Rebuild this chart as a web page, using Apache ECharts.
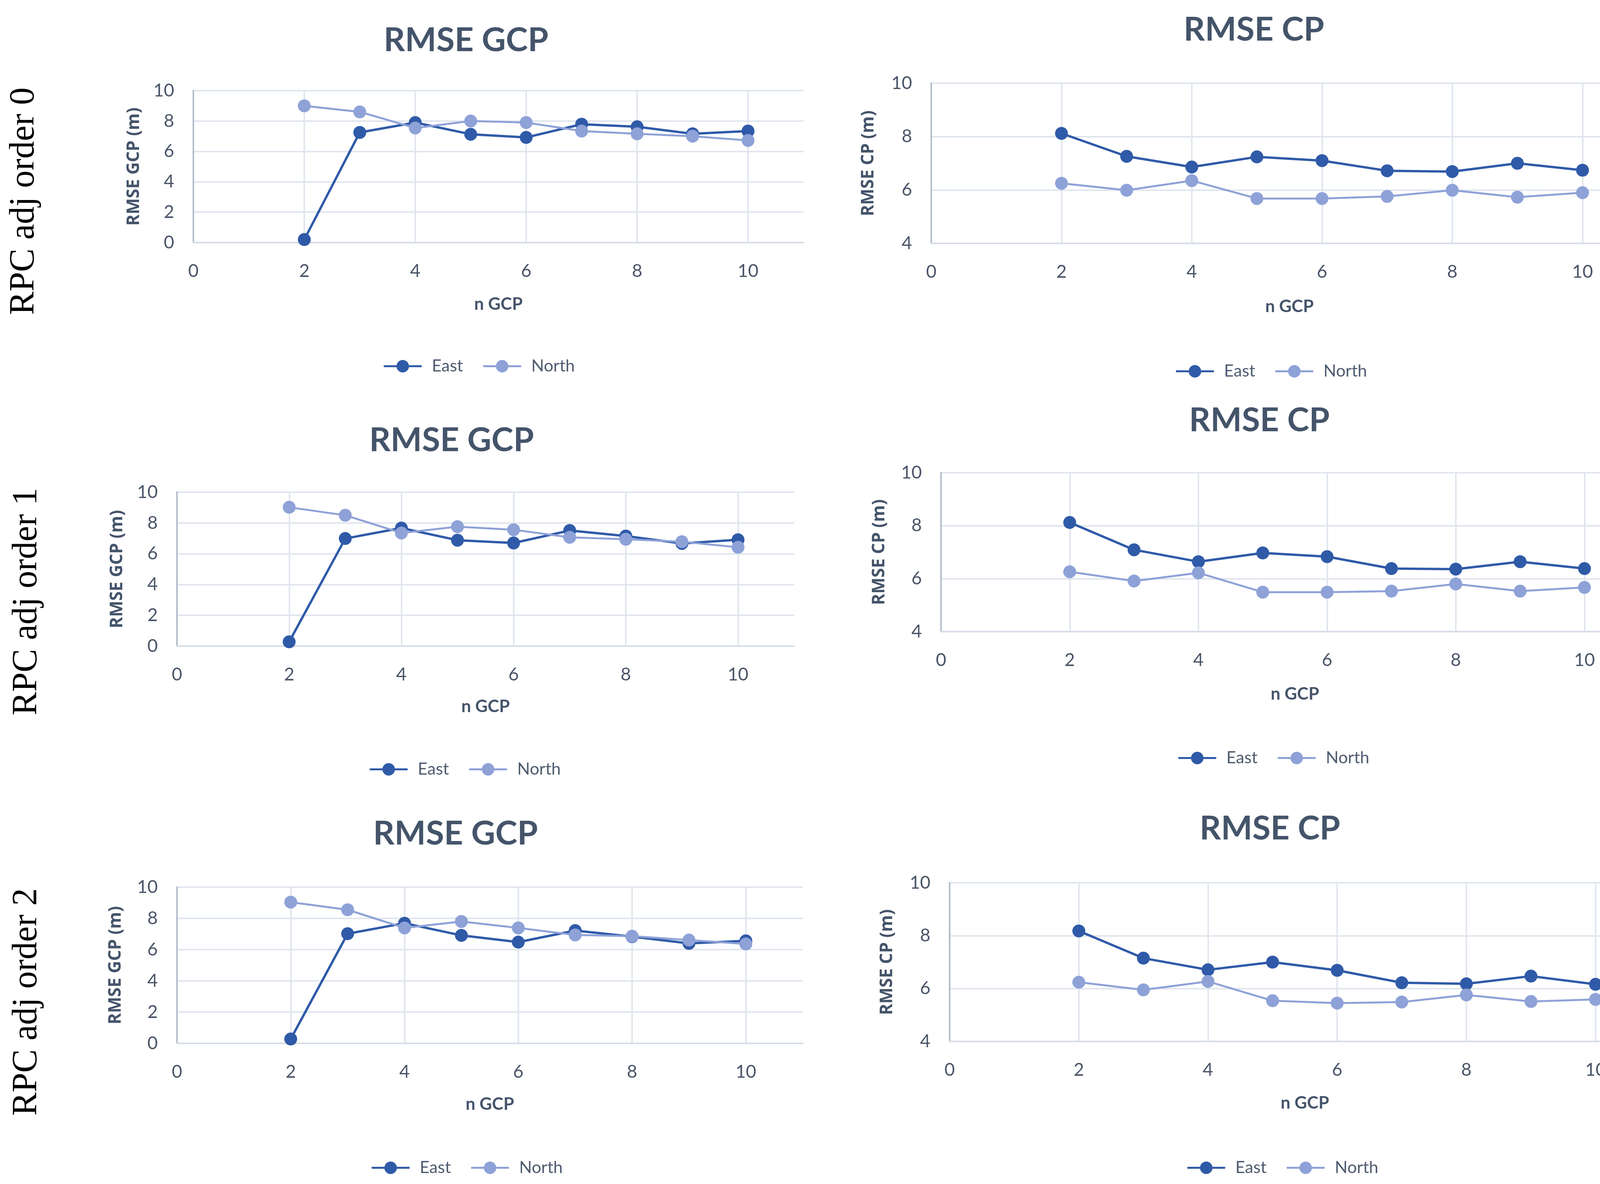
<!DOCTYPE html>
<html><head><meta charset="utf-8">
<script src="https://cdn.jsdelivr.net/npm/echarts@6/dist/echarts.min.js"></script>
<style>html,body{margin:0;padding:0;background:#fff;}#c{width:4279px;height:3031px;}</style>
</head><body><div id="c"></div>
<script>
// ---- data ----
const nGCP = [2, 3, 4, 5, 6, 7, 8, 9, 10];
const eastGCP0  = [0.20, 7.25, 7.90, 7.13, 6.92, 7.79, 7.62, 7.16, 7.34];
const northGCP0 = [9.00, 8.60, 7.54, 8.00, 7.90, 7.34, 7.16, 7.00, 6.72];
const eastCP0   = [8.12, 7.26, 6.86, 7.24, 7.10, 6.72, 6.69, 7.00, 6.74];
const northCP0  = [6.25, 5.99, 6.35, 5.68, 5.68, 5.76, 5.99, 5.73, 5.90];
const eastGCP1  = [0.28, 6.99, 7.67, 6.88, 6.70, 7.51, 7.15, 6.67, 6.91];
const northGCP1 = [9.02, 8.50, 7.35, 7.76, 7.56, 7.07, 6.94, 6.78, 6.42];
const eastCP1   = [8.12, 7.09, 6.64, 6.97, 6.83, 6.38, 6.36, 6.64, 6.38];
const northCP1  = [6.26, 5.91, 6.22, 5.49, 5.49, 5.53, 5.80, 5.53, 5.67];
const eastGCP2  = [0.28, 7.02, 7.69, 6.91, 6.48, 7.22, 6.83, 6.40, 6.56];
const northGCP2 = [9.04, 8.55, 7.39, 7.80, 7.39, 6.94, 6.86, 6.61, 6.36];
const eastCP2   = [8.18, 7.15, 6.71, 7.00, 6.69, 6.22, 6.18, 6.47, 6.16];
const northCP2  = [6.24, 5.95, 6.27, 5.54, 5.45, 5.49, 5.76, 5.51, 5.59];
const seriesNames = ['East', 'North'];
const rowLabels = ['RPC adj order 0', 'RPC adj order 1', 'RPC adj order 2'];
const chartTitles = ['RMSE GCP', 'RMSE CP'];
const yNames = ['RMSE GCP (m)', 'RMSE CP (m)'];
const xName = 'n GCP';
const xAxisRange = [0, 11, 2];     // min, max, interval
const yRangeGCP = [0, 10, 2];
const yRangeCP = [4, 10, 2];

const panelData = [
  {kind: 0, east: eastGCP0, north: northGCP0},
  {kind: 1, east: eastCP0,  north: northCP0},
  {kind: 0, east: eastGCP1, north: northGCP1},
  {kind: 1, east: eastCP1,  north: northCP1},
  {kind: 0, east: eastGCP2, north: northGCP2},
  {kind: 1, east: eastCP2,  north: northCP2}
];

// ---- layout (positions / sizes) ----
const layout = [
  {grid: [495, 232, 1562, 389],  tc: [1193, 104],  yOff: 153, xOff: 160, lg: [1217, 936]},
  {grid: [2384, 213, 1834, 410], tc: [3210, 77],   yOff: 162, xOff: 164, lg: [3245, 949]},
  {grid: [453, 1260, 1580, 394], tc: [1156, 1128], yOff: 154, xOff: 157, lg: [1181, 1968]},
  {grid: [2409, 1210, 1812, 407],tc: [3224, 1077], yOff: 159, xOff: 162, lg: [3251, 1939]},
  {grid: [453, 2271, 1602, 400], tc: [1166, 2135], yOff: 158, xOff: 158, lg: [1186, 2988]},
  {grid: [2431, 2260, 1819, 406],tc: [3251, 2122], yOff: 161, xOff: 160, lg: [3274, 2988]}
];
const rowLabelPos = [[62, 515], [69, 1540], [69, 2565]];

const COL_EAST = '#2f5aa8';
const COL_NORTH = '#8ea2d8';
const TXT = '#44546a';
const TICK = '#4a5568';
const GRIDC = '#e1e6ee';

const grids = [], xAxes = [], yAxes = [], series = [], legends = [], graphics = [];

panelData.forEach((p, i) => {
  const L = layout[i];
  const yr = p.kind === 0 ? yRangeGCP : yRangeCP;
  grids.push({left: L.grid[0], top: L.grid[1], width: L.grid[2], height: L.grid[3], containLabel: false});
  xAxes.push({
    type: 'value', gridIndex: i, min: xAxisRange[0], max: xAxisRange[1], interval: xAxisRange[2],
    name: xName, nameLocation: 'middle', nameGap: L.xOff - 24,
    nameTextStyle: {fontFamily: 'Lato', fontWeight: 'bold', fontSize: 44, color: TXT},
    axisLine: {show: true, onZero: false, lineStyle: {color: '#d6dce6', width: 4}},
    axisTick: {show: false},
    axisLabel: {fontFamily: 'Lato', fontSize: 46, color: TICK, margin: 50, showMaxLabel: false},
    splitLine: {show: true, showMinLine: false, showMaxLine: false, lineStyle: {color: GRIDC, width: 4}}
  });
  yAxes.push({
    type: 'value', gridIndex: i, min: yr[0], max: yr[1], interval: yr[2],
    name: yNames[p.kind], nameLocation: 'middle', nameGap: L.yOff - 23, nameRotate: 90,
    nameTextStyle: {fontFamily: 'Open Sans', fontWeight: 'bold', fontSize: 44, color: TXT},
    axisLine: {show: true, lineStyle: {color: '#b3bdcd', width: 4}},
    axisTick: {show: false},
    axisLabel: {fontFamily: 'Lato', fontSize: 46, color: TICK, margin: 49},
    splitLine: {show: true, showMinLine: false, lineStyle: {color: GRIDC, width: 4}}
  });
  [p.east, p.north].forEach((vals, k) => {
    series.push({
      type: 'line', name: seriesNames[k], xAxisIndex: i, yAxisIndex: i,
      data: nGCP.map((x, j) => [x, vals[j]]),
      symbol: 'circle', symbolSize: 33, showSymbol: true,
      lineStyle: {color: k === 0 ? COL_EAST : COL_NORTH, width: k === 0 ? 6 : 5},
      itemStyle: {color: k === 0 ? COL_EAST : COL_NORTH},
      emphasis: {disabled: true}, animation: false, z: 2 + k
    });
  });
  legends.push({
    data: seriesNames, left: L.lg[0] - 237, top: L.lg[1] - 20, padding: 0,
    itemWidth: 97, itemHeight: 40, itemGap: 49, orient: 'horizontal',
    lineStyle: {width: 5},
    textStyle: {fontFamily: 'Lato', fontSize: 43, color: '#4e5b70', padding: [0, 0, 0, 21]},
    selectedMode: false
  });
  graphics.push({
    type: 'text', x: L.tc[0], y: L.tc[1],
    style: {text: chartTitles[p.kind], font: 'bold 85px Lato', fill: TXT, textAlign: 'center', textVerticalAlign: 'middle'}
  });
});

rowLabels.forEach((t, r) => {
  graphics.push({
    type: 'text', x: rowLabelPos[r][0], y: rowLabelPos[r][1], rotation: Math.PI / 2,
    style: {text: t, font: '90px "Liberation Serif"', fill: '#000', textAlign: 'center', textVerticalAlign: 'middle'}
  });
});

const chart = echarts.init(document.getElementById('c'), null, {renderer: 'canvas'});
chart.setOption({
  backgroundColor: '#fff',
  animation: false,
  grid: grids, xAxis: xAxes, yAxis: yAxes, series: series, legend: legends,
  graphic: graphics
});
</script></body></html>
